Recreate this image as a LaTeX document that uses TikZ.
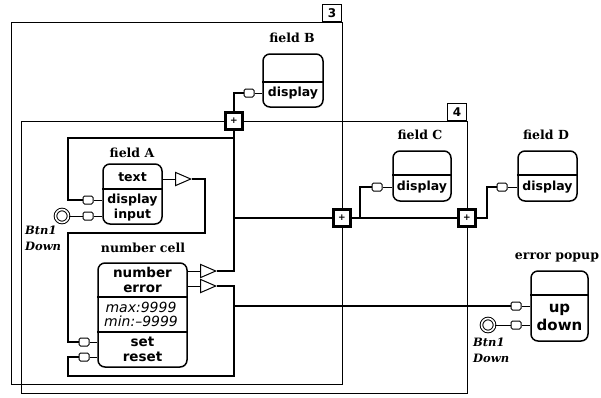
\documentclass[tikz,border=0pt]{standalone}
\usepackage{fontspec}
\setmainfont{DejaVu Serif}
\setsansfont{DejaVu Sans}
\usetikzlibrary{shapes.geometric, positioning}
\tikzset{every node/.append style={align=center}}
\tikzset{
  frame/.style={line width=0.8pt},
  tag/.style={draw, line width=0.8pt, minimum width=19, minimum height=17, inner sep=0pt,
              font=\fontsize{12}{12}\sffamily\bfseries},
  fieldbox/.style={draw, line width=1.5pt, rounded corners=7pt, inner sep=0pt},
  divider/.style={line width=1.2pt},
  title/.style={font=\fontsize{12.5}{14}\rmfamily\bfseries},
  boxtext/.style={font=\fontsize{12.5}{15}\sffamily\bfseries, inner sep=0pt},
  valtext/.style={font=\fontsize{14}{14}\sffamily\itshape, inner sep=0pt},
  port/.style={draw, fill=white, line width=1pt, rounded corners=1.5pt,
               minimum width=10, minimum height=8, inner sep=0pt},
  outtri/.style={draw, isosceles triangle, isosceles triangle stretches,
                 minimum width=13, minimum height=15, inner sep=0pt, line width=1pt},
  btn/.style={circle, draw, line width=1pt, double, double distance=1.6pt,
              minimum size=13, inner sep=0pt},
  btnlbl/.style={font=\fontsize{11.5}{15.5}\rmfamily\bfseries\itshape, align=left, inner sep=0pt},
  junct/.style={draw, fill=white, line width=2.2pt, minimum size=17, inner sep=0pt,
                font=\fontsize{9}{9}\sffamily\bfseries},
  wire/.style={line width=1.2pt},
  stub/.style={line width=0.8pt}
}

\begin{document}
\begin{tikzpicture}[x=1pt,y=-1pt]
\fill[white] (0,0) rectangle (601,397);
\useasboundingbox (0,0) rectangle (601,397);

% ── frames 3 and 4 ──────────────────────────────────────────────
\draw[frame] (11,22) rectangle (342,384);
\draw[frame] (21,121) rectangle (467,393);
\node[tag, anchor=south east] (tag3) at (342,22) {3};
\node[tag, anchor=south east] (tag4) at (467,121) {4};

% ── field B ─────────────────────────────────────────────────────
\node[title] (fBt) at (292,38) {field B};
\node[fieldbox, minimum width=60, minimum height=53] (fB) at (293,80.5) {};
\draw[divider] (fB.west |- 0,82) -- (fB.east |- 0,82);
\node[boxtext] (fBd) at (293,93) {display};
\node[port] (pB) at (249,93) {};
\draw[stub] (pB.east) -- (pB -| fB.west);

% ── field C and field D ─────────────────────────────────────────
\node[title] (fCt) at (420,135) {field C};
\node[fieldbox, minimum width=58, minimum height=50] (fC) at (422,176) {};
\draw[divider] (fC.west |- 0,175) -- (fC.east |- 0,175);
\node[boxtext] (fCd) at (422,187) {display};
\node[port] (pC) at (377,187) {};
\draw[stub] (pC.east) -- (pC -| fC.west);

\node[title] (fDt) at (546,135) {field D};
\node[fieldbox, minimum width=59, minimum height=50] (fD) at (547.5,176) {};
\draw[divider] (fD.west |- 0,175) -- (fD.east |- 0,175);
\node[boxtext] (fDd) at (547.5,187) {display};
\node[port] (pD) at (502,187) {};
\draw[stub] (pD.east) -- (pD -| fD.west);

% ── field A ─────────────────────────────────────────────────────
\node[title] (fAt) at (132,153) {field A};
\node[fieldbox, minimum width=59, minimum height=60] (fA) at (132.5,194) {};
\draw[divider] (fA.west |- 0,189) -- (fA.east |- 0,189);
\node[boxtext] (fAx) at (132.5,177) {text};
\node[boxtext] (fAd) at (132.5,208) {display\\input};
\node[port] (pAd) at (88,200) {};
\node[port] (pAi) at (88,216) {};
\draw[stub] (pAd.east) -- (pAd -| fA.west);
\draw[stub] (pAi.east) -- (pAi -| fA.west);
\node[outtri] (tA) at (180,179) {};
\draw[stub] (fA.east |- tA) -- (tA.west);
\node[btn] (bA) at (62,216) {};
\draw[stub] (bA.east) -- (pAi.west);
\node[btnlbl, anchor=north west] (bAl) at (25,226) {Btn1\\Down};

% ── number cell ─────────────────────────────────────────────────
\node[title] (nct) at (143,248) {number cell};
\node[fieldbox, minimum width=89, minimum height=104] (nc) at (142.5,315) {};
\draw[divider] (nc.west |- 0,297) -- (nc.east |- 0,297);
\draw[divider] (nc.west |- 0,332) -- (nc.east |- 0,332);
\node[boxtext, font=\fontsize{13.5}{14.5}\sffamily\bfseries] (ncn) at (142.5,280) {number\\error};
\node[valtext] (ncv) at (141,314) {max:9999\\min:\textendash9999};
\node[boxtext, font=\fontsize{13.5}{15}\sffamily\bfseries] (ncs) at (142.5,349.5) {set\\reset};
\node[port] (pNs) at (84,342) {};
\node[port] (pNr) at (84,357) {};
\draw[stub] (pNs.east) -- (pNs -| nc.west);
\draw[stub] (pNr.east) -- (pNr -| nc.west);
\node[outtri] (tN) at (205,271) {};
\node[outtri] (tE) at (205,286) {};
\draw[stub] (nc.east |- tN) -- (tN.west);
\draw[stub] (nc.east |- tE) -- (tE.west);

% ── error popup ─────────────────────────────────────────────────
\node[title] (ept) at (557,257) {error popup};
\node[fieldbox, minimum width=57, minimum height=70] (ep) at (559.5,306) {};
\draw[divider] (ep.west |- 0,295) -- (ep.east |- 0,295);
\node[boxtext, font=\fontsize{15}{18}\sffamily\bfseries] (epu) at (559.5,317) {up\\down};
\node[port] (pEu) at (516,306) {};
\node[port] (pEd) at (516,325) {};
\draw[stub] (pEu.east) -- (pEu -| ep.west);
\draw[stub] (pEd.east) -- (pEd -| ep.west);
\node[btn] (bE) at (488,325) {};
\draw[stub] (bE.east) -- (pEd.west);
\node[btnlbl, anchor=north west] (bEl) at (473,338) {Btn1\\Down};

% ── joins on the frame edges ────────────────────────────────────
\node[junct] (j1) at (234,121) {+};
\node[junct] (j2) at (342,218) {+};
\node[junct] (j3) at (467,218) {+};

% ── wires ───────────────────────────────────────────────────────
\coordinate (kA) at (68,138);
\coordinate (kC) at (360,218);
\coordinate (kD) at (487,218);
\coordinate (kE) at (205,233);
\coordinate (kF) at (68,233);
\coordinate (kG) at (234,376);
\coordinate (kH) at (68,376);

\draw[wire] (pB.west) -| (j1.north);
\draw[wire] (tN.east) -| (j1.south);
\draw[wire] (pAd.west) -| (kA) -- (kA -| j1);
\draw[wire] (j1 |- j2) -- (j2.west);
\draw[wire] (j2.east) -- (j3.west);
\draw[wire] (pC.west) -| (kC);
\draw[wire] (j3.east) -- (kD) |- (pD.west);
\draw[wire] (tA.east) -| (kE) -- (kF) |- (pNs.west);
\draw[wire] (tE.east) -| (kG) -- (kH) |- (pNr.west);
\draw[wire] (kG |- pEu) -- (pEu.west);

\end{tikzpicture}
\end{document}
